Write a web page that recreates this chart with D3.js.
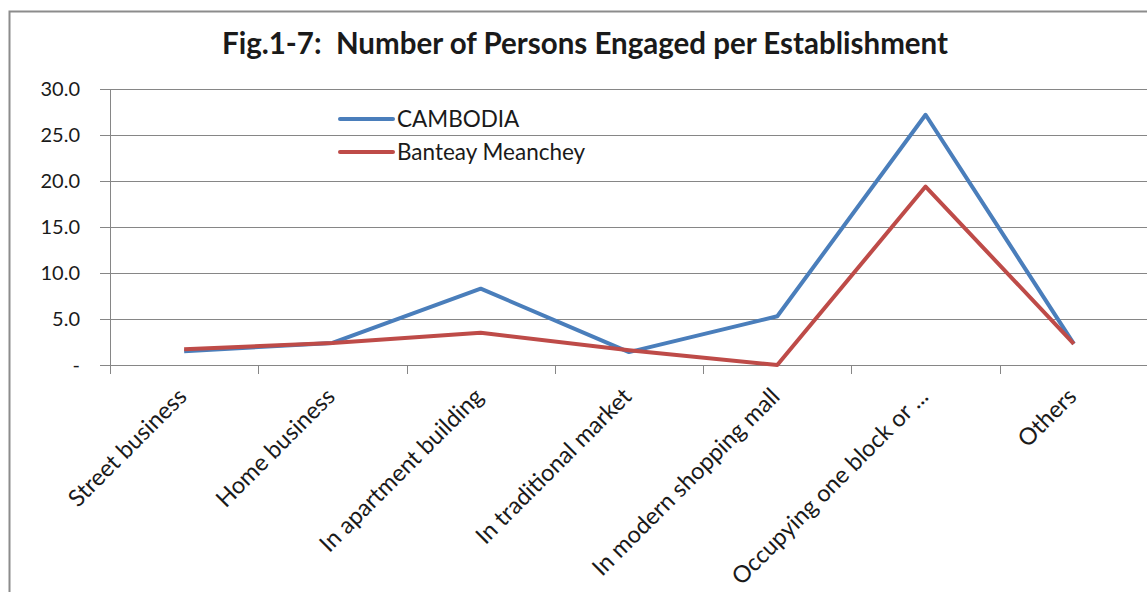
<!DOCTYPE html>
<html>
<head>
<meta charset="utf-8">
<title>Fig.1-7</title>
<script src="https://cdn.jsdelivr.net/npm/d3@7"></script>
<style>
  body { margin: 0; background: #fff; }
  text { font-family: Lato, "Open Sans", sans-serif; fill: #1a1a1a; }
  .grid line { stroke: #868686; shape-rendering: crispEdges; }
  .axis path, .axis line { stroke: #868686; shape-rendering: crispEdges; }
</style>
</head>
<body>
<script>
const width = 1147, height = 592;

const categories = ["Street business", "Home business", "In apartment building",
  "In traditional market", "In modern shopping mall", "Occupying one block or ...", "Others"];
const cambodia = [1.5, 2.4, 8.3, 1.4, 5.3, 27.2, 2.3];
const banteay = [1.7, 2.4, 3.5, 1.6, 0.0, 19.4, 2.3];
const yTicks = [0, 5, 10, 15, 20, 25, 30];
const seriesNames = ["CAMBODIA", "Banteay Meanchey"];
const colors = ["#4a7ebb", "#be4b48"];

const margin = {left: 110, right: -1, top: 89, bottom: 227};

const svg = d3.select("body").append("svg")
  .attr("width", width)
  .attr("height", height);

// outer chart border
svg.append("rect")
  .attr("x", 9.5).attr("y", 11.5)
  .attr("width", 1300).attr("height", 700)
  .attr("fill", "none")
  .attr("stroke", "#8c8c8c")
  .attr("stroke-width", 2);

const x = d3.scaleBand()
  .domain(categories)
  .range([margin.left, width - margin.right]);

const y = d3.scaleLinear()
  .domain([0, 30])
  .range([height - margin.bottom, margin.top]);

// gridlines
svg.append("g").attr("class", "grid")
  .selectAll("line")
  .data(yTicks.slice(1))
  .enter().append("line")
  .attr("x1", margin.left)
  .attr("x2", width)
  .attr("y1", d => Math.round(y(d)) + 0.5)
  .attr("y2", d => Math.round(y(d)) + 0.5);

// y axis
const yAxis = d3.axisLeft(y)
  .tickValues(yTicks)
  .tickSize(10)
  .tickPadding(20)
  .tickFormat(d => d === 0 ? "-" : d3.format(".1f")(d));

svg.append("g")
  .attr("class", "axis")
  .attr("transform", "translate(" + margin.left + ",0)")
  .call(yAxis)
  .call(g => g.selectAll("text").attr("font-size", 20).attr("fill", "#1a1a1a"));

// x axis
const xAxis = d3.axisBottom(x)
  .tickSize(0)
  .tickFormat("");

const gx = svg.append("g")
  .attr("class", "axis")
  .attr("transform", "translate(0," + y(0) + ")")
  .call(xAxis);
gx.select(".domain").remove();
gx.append("line")
  .attr("x1", margin.left).attr("x2", width)
  .attr("y1", 0.5).attr("y2", 0.5)
  .attr("stroke", "#868686");

// category boundary ticks
svg.append("g").attr("class", "axis")
  .selectAll("line")
  .data(categories)
  .enter().append("line")
  .attr("x1", d => Math.round(x(d)) + 0.5)
  .attr("x2", d => Math.round(x(d)) + 0.5)
  .attr("y1", y(0))
  .attr("y2", y(0) + 9);

// rotated category labels
svg.append("g")
  .selectAll("text")
  .data(categories)
  .enter().append("text")
  .attr("transform", d => "translate(" + (x(d) + x.bandwidth() / 2 + 4) + "," + (y(0) + 33) + ") rotate(-45)")
  .attr("text-anchor", "end")
  .attr("font-size", 23.5)
  .text(d => d);

// lines
const line = d3.line()
  .x((d, i) => x(categories[i]) + x.bandwidth() / 2)
  .y(d => y(d));

[cambodia, banteay].forEach(function(data, i) {
  svg.append("path")
    .datum(data)
    .attr("fill", "none")
    .attr("stroke", colors[i])
    .attr("stroke-width", 4)
    .attr("stroke-linejoin", "round")
    .attr("d", line);
});

// title
svg.append("text")
  .attr("x", 585)
  .attr("y", 54)
  .attr("text-anchor", "middle")
  .attr("font-size", 29.5)
  .attr("font-weight", "bold")
  .style("white-space", "pre")
  .text("Fig.1-7:  Number of Persons Engaged per Establishment");

// legend
const legend = svg.append("g")
  .selectAll("g")
  .data(seriesNames)
  .enter().append("g")
  .attr("transform", (d, i) => "translate(340," + (119 + i * 33) + ")");

legend.append("line")
  .attr("x1", 0).attr("x2", 53)
  .attr("stroke", (d, i) => colors[i])
  .attr("stroke-width", 4)
  .attr("stroke-linecap", "round");

legend.append("text")
  .attr("x", 57)
  .attr("y", 8)
  .attr("font-size", 22.5)
  .text(d => d);
</script>
</body>
</html>
